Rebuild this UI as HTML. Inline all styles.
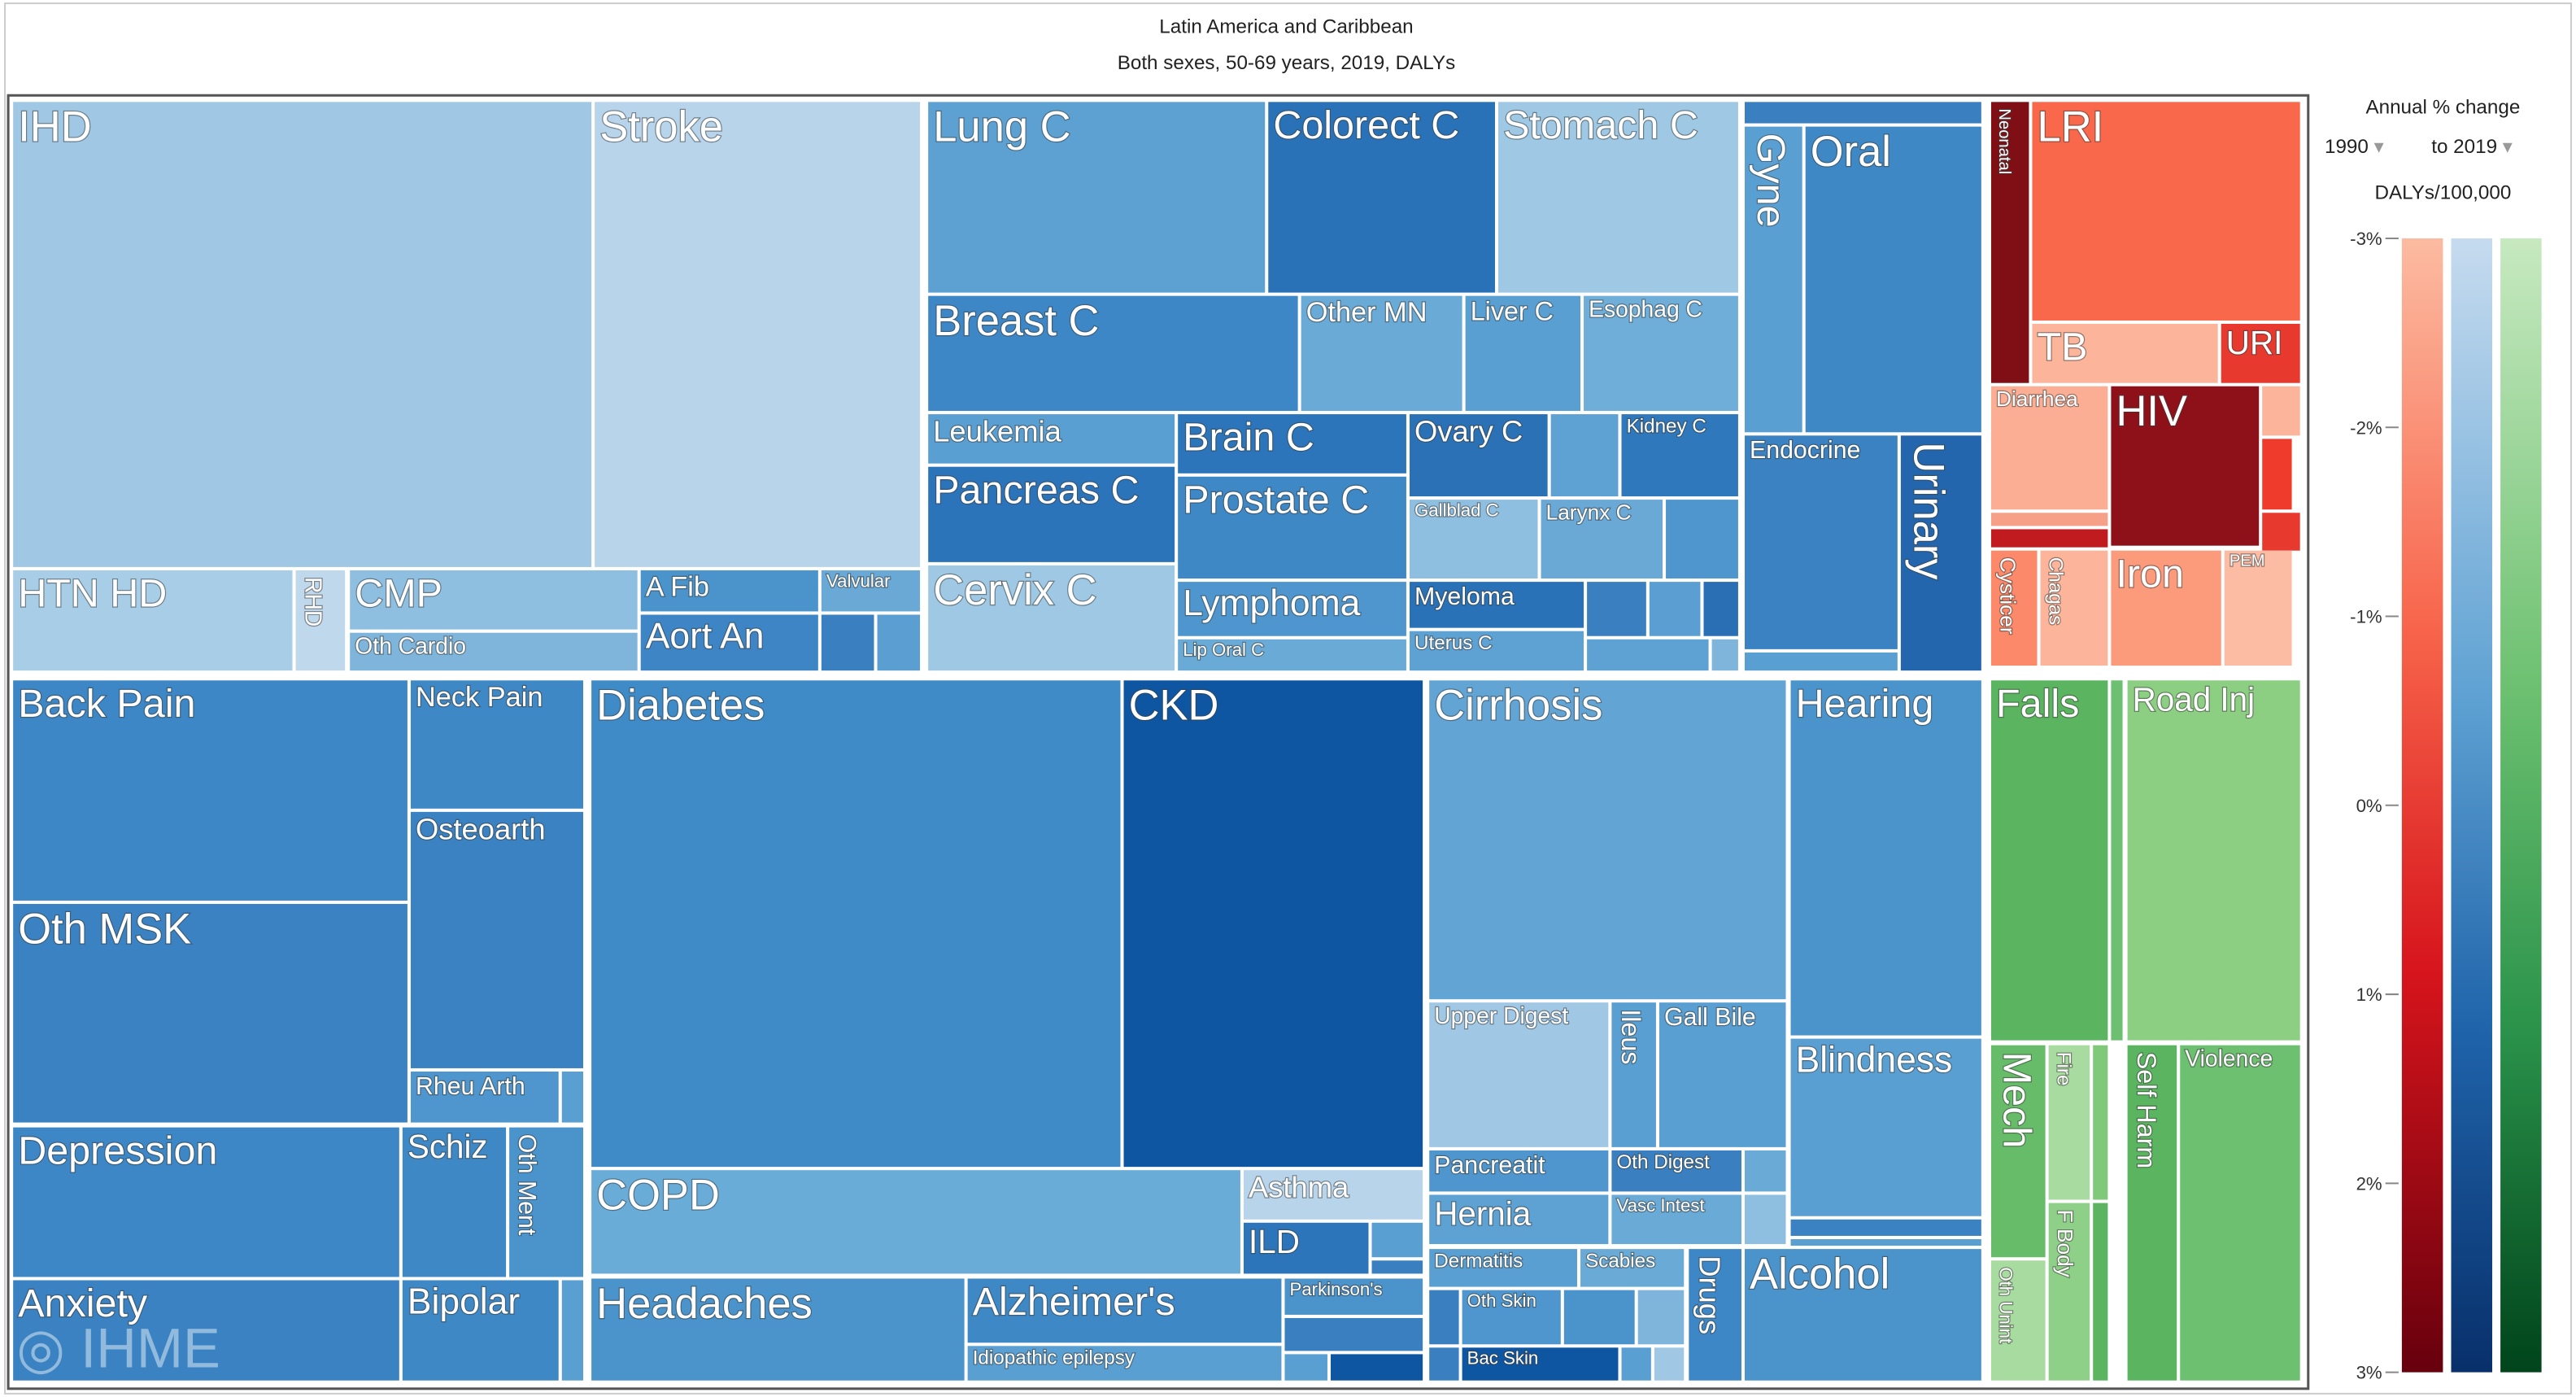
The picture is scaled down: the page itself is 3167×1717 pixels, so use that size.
<!DOCTYPE html>
<html><head><meta charset="utf-8"><style>
html,body{margin:0;padding:0;background:#fff;}
svg{display:block;font-family:"Liberation Sans",sans-serif;}
.lb{fill:#fff;paint-order:stroke;stroke:rgba(60,60,60,0.55);stroke-width:1.2px;}
</style></head><body>
<svg id="chart" width="3167" height="1717" viewBox="0 0 1568 850" xmlns="http://www.w3.org/2000/svg">
<rect x="3" y="2" width="1562" height="846" fill="#fff" stroke="#ccc" stroke-width="1"/>
<text x="783" y="20" font-size="12" text-anchor="middle" fill="#222">Latin America and Caribbean</text>
<text x="783" y="42" font-size="12" text-anchor="middle" fill="#222">Both sexes, 50-69 years, 2019, DALYs</text>
<rect x="5" y="58" width="1400" height="787" fill="#fff" stroke="#555" stroke-width="1.5"/>
<g id="cells"></g>
<g id="legend">
<text x="1487" y="69" font-size="12" text-anchor="middle" fill="#222">Annual % change</text>
<text x="1415" y="93" font-size="12" fill="#222">1990 <tspan fill="#999">▾</tspan></text>
<text x="1480" y="93" font-size="12" fill="#222">to 2019 <tspan fill="#999">▾</tspan></text>
<text x="1487" y="121" font-size="12" text-anchor="middle" fill="#222">DALYs/100,000</text>
<defs>
<linearGradient id="gr" x1="0" y1="0" x2="0" y2="1"><stop offset="0" stop-color="#fcbba1"/><stop offset="0.35" stop-color="#f7634a"/><stop offset="0.65" stop-color="#d6141c"/><stop offset="1" stop-color="#67000d"/></linearGradient>
<linearGradient id="gb" x1="0" y1="0" x2="0" y2="1"><stop offset="0" stop-color="#c6dbef"/><stop offset="0.4" stop-color="#5fa2d3"/><stop offset="0.7" stop-color="#1f63aa"/><stop offset="1" stop-color="#08306b"/></linearGradient>
<linearGradient id="gg" x1="0" y1="0" x2="0" y2="1"><stop offset="0" stop-color="#c7e9c0"/><stop offset="0.4" stop-color="#6cc070"/><stop offset="0.7" stop-color="#2a924a"/><stop offset="1" stop-color="#00441b"/></linearGradient>
</defs>
<rect x="1462" y="145" width="25" height="690" fill="url(#gr)"/>
<rect x="1492" y="145" width="25" height="690" fill="url(#gb)"/>
<rect x="1522" y="145" width="25" height="690" fill="url(#gg)"/>
<g id="ticks"></g>
</g>
<text x="10" y="832" font-size="34" fill="rgba(255,255,255,0.45)">◎ IHME</text>
</svg>
<script>
// legend tick labels
const tickLabels = ['-3%','-2%','-1%','0%','1%','2%','3%'];
const tickValues = [-3,-2,-1,0,1,2,3];
// treemap cells: [x1,y1,x2,y2,color,label,fontSize,vertical]
const cells = [
[8,62,360,345,'#a0c8e4','IHD',26],[362,62,560,345,'#b8d4ea','Stroke',26],
[8,347,178,408,'#a8cde6','HTN HD',24],[180,347,210,408,'#c0d8ec','RHD',14,1],
[213,347,388,383,'#8fbfe0','CMP',24],[213,385,388,408,'#7fb5da','Oth Cardio',14],
[390,347,498,372,'#4a93cb','A Fib',17],[500,347,560,372,'#6aa8d6','Valvular',11],
[390,374,498,408,'#3d85c4','Aort An',22],[500,374,532,408,'#3a80c0',''],[534,374,560,408,'#5a9ed2',''],
[565,62,770,178,'#5da1d3','Lung C',26],[772,62,910,178,'#2a72b8','Colorect C',24],[912,62,1058,178,'#9ec8e3','Stomach C',24],
[565,180,790,250,'#3d87c6','Breast C',26],[792,180,890,250,'#6aaad6','Other MN',17],[892,180,962,250,'#5a9fd2','Liver C',16],[964,180,1058,250,'#6eaed8','Esophag C',14],
[565,252,715,282,'#5a9fd2','Leukemia',18],[565,284,715,342,'#2b74ba','Pancreas C',24],
[717,252,856,288,'#2c75ba','Brain C',24],[717,290,856,352,'#3e88c6','Prostate C',24],
[858,252,942,302,'#2a71b6','Ovary C',18],[944,252,985,302,'#5ea2d4',''],[987,252,1058,302,'#2f78bc','Kidney C',12],
[858,304,936,352,'#8fbfe0','Gallblad C',11],[938,304,1012,352,'#6aa8d6','Larynx C',13],[1014,304,1058,352,'#4e96cd',''],
[565,344,715,408,'#9ec8e3','Cervix C',26],[717,354,856,387,'#4e96cd','Lymphoma',22],[717,389,856,408,'#6aaad6','Lip Oral C',11],
[858,354,964,382,'#2a72b8','Myeloma',15],[858,384,964,408,'#5ea2d4','Uterus C',12],
[966,354,1002,387,'#3a80c0',''],[1004,354,1035,387,'#5a9ed2',''],[1037,354,1058,387,'#2a6fb4',''],[966,389,1040,408,'#5ea2d4',''],[1042,389,1058,408,'#7fb5da',''],
[1062,62,1206,75,'#3a80c0',''],[1062,77,1097,263,'#5a9fd2','Gyne',24,1],[1099,77,1206,263,'#3e88c6','Oral',26],
[1062,265,1155,395,'#3a82c2','Endocrine',15],[1157,265,1206,408,'#2366ad','Urinary',26,1],[1062,397,1155,408,'#5a9fd2',''],
[1212,62,1235,233,'#7f0f14','Neonatal',10,1],[1237,62,1400,195,'#f9684a','LRI',26],
[1237,197,1350,233,'#fcb49a','TB',24],[1352,197,1400,233,'#e8392f','URI',20],
[1212,235,1283,310,'#fcae94','Diarrhea',13],[1285,235,1375,332,'#8e1018','HIV',26],
[1377,235,1400,265,'#fcb49a',''],[1377,267,1395,310,'#ef3b2c',''],[1377,312,1400,335,'#e8392f',''],
[1212,312,1283,320,'#f7a088',''],[1212,322,1283,333,'#c11b20',''],
[1212,335,1240,405,'#fc8a6a','Cysticer',13,1],[1242,335,1283,405,'#fcb49a','Chagas',12,1],
[1285,335,1352,405,'#fc9a7c','Iron',24],[1354,335,1395,405,'#fcbca4','PEM',10],
[8,414,248,548,'#3d87c6','Back Pain',24],[250,414,355,492,'#3e88c6','Neck Pain',17],
[250,494,355,650,'#3a82c2','Osteoarth',18],[8,550,248,683,'#3a82c2','Oth MSK',26],
[250,652,340,683,'#4e96cd','Rheu Arth',15],[342,652,355,683,'#5a9fd2',''],
[8,686,243,777,'#3d87c6','Depression',24],[245,686,308,777,'#3e88c6','Schiz',20],[310,686,355,777,'#4a93cb','Oth Ment',15,1],
[8,779,243,840,'#3a82c2','Anxiety',24],[245,779,340,840,'#3e88c6','Bipolar',22],[342,779,355,840,'#5a9fd2',''],
[360,414,682,710,'#3f8bc8','Diabetes',26],[684,414,866,710,'#0e56a2','CKD',26],
[360,712,755,775,'#6aacd8','COPD',26],[757,712,866,742,'#b8d4ea','Asthma',18],[757,744,833,775,'#2c75ba','ILD',20],
[835,744,866,765,'#5a9fd2',''],[835,767,866,775,'#3a80c0',''],
[360,778,587,840,'#4a93cb','Headaches',26],[589,778,780,817,'#3e88c6',"Alzheimer's",24],[589,819,780,840,'#5a9fd2','Idiopathic epilepsy',12],
[782,778,866,800,'#4a93cb',"Parkinson's",11],[782,802,866,822,'#3a80c0',''],[782,824,808,840,'#5a9fd2',''],[810,824,866,840,'#0e56a2',''],
[870,414,1087,608,'#62a5d5','Cirrhosis',26],[870,610,979,698,'#a0c8e4','Upper Digest',14],[981,610,1008,698,'#5a9fd2','Ileus',16,1],[1010,610,1087,698,'#5a9fd2','Gall Bile',15],
[870,700,979,725,'#4e96cd','Pancreatit',15],[981,700,1060,725,'#3a80c0','Oth Digest',12],[1062,700,1087,725,'#6aaad6',''],
[870,727,979,757,'#5ea2d4','Hernia',20],[981,727,1060,757,'#6aaad6','Vasc Intest',11],[1062,727,1087,757,'#8fbfe0',''],
[870,760,960,783,'#5a9fd2','Dermatitis',12],[962,760,1025,783,'#6aaad6','Scabies',12],
[870,785,888,818,'#3a80c0',''],[890,785,950,818,'#4e96cd','Oth Skin',11],[952,785,995,818,'#4a93cb',''],[997,785,1025,818,'#7fb5da',''],
[870,820,888,840,'#3a80c0',''],[890,820,985,840,'#0e56a2','Bac Skin',11],[987,820,1005,840,'#5a9fd2',''],[1007,820,1025,840,'#a0c8e4',''],
[1028,760,1060,840,'#3d87c6','Drugs',18,1],[1062,760,1206,840,'#4a93cb','Alcohol',26],
[1090,414,1206,630,'#4a93cb','Hearing',24],[1090,632,1206,740,'#5a9fd2','Blindness',22],[1090,742,1206,752,'#3a82c2',''],[1090,754,1206,758,'#5a9fd2',''],
[1212,414,1283,633,'#5bb560','Falls',24],[1285,414,1292,633,'#6cc070',''],[1295,414,1400,633,'#8ccf83','Road Inj',20],
[1212,636,1245,765,'#67bc69','Mech',24,1],[1247,636,1272,730,'#a8dba0','Fire',12,1],[1274,636,1283,730,'#80c97a',''],
[1212,767,1245,840,'#a8dba0','Oth Unint',11,1],[1247,732,1272,840,'#8fd088','F Body',13,1],[1274,732,1283,840,'#5bb560',''],
[1295,636,1325,840,'#5bb560','Self Harm',16,1],[1327,636,1400,840,'#6cc070','Violence',14]
];
const NS='http://www.w3.org/2000/svg';
const g=document.getElementById('cells');
function slug(s){return s.toLowerCase().replace(/[^a-z0-9]+/g,'-').replace(/^-|-$/g,'')||'unlabeled';}
cells.forEach(c=>{
  const [x1,y1,x2,y2,col,lab,fs,vert]=c;
  const r=document.createElementNS(NS,'rect');
  r.setAttribute('x',x1);r.setAttribute('y',y1);r.setAttribute('width',x2-x1);r.setAttribute('height',y2-y1);
  r.setAttribute('fill',col);
  
  
  g.appendChild(r);
  if(lab){
    const t=document.createElementNS(NS,'text');
    t.setAttribute('class','lb');t.setAttribute('font-size',fs);
    if(vert){
      const tx=x1+3+fs*0.2, ty=y1+4;
      t.setAttribute('transform','translate('+tx+','+ty+') rotate(90)');
      t.setAttribute('x',0);t.setAttribute('y',0);
    }else{
      t.setAttribute('x',x1+3);t.setAttribute('y',y1+fs*0.92);
    }
    t.textContent=lab;
    
    
    g.appendChild(t);
  }
});
const tg=document.getElementById('ticks');
const yScale=v=>490+v*115;
tickValues.forEach((v,i)=>{
  const t=document.createElementNS(NS,'text');
  t.setAttribute('x',1450);t.setAttribute('y',yScale(v)+4);
  t.setAttribute('font-size',11);t.setAttribute('text-anchor','end');t.setAttribute('fill','#333');
  t.textContent=tickLabels[i];
  
  
  tg.appendChild(t);
  const l=document.createElementNS(NS,'line');
  l.setAttribute('x1',1452);l.setAttribute('x2',1460);l.setAttribute('y1',yScale(v));l.setAttribute('y2',yScale(v));
  l.setAttribute('stroke','#888');
  
  
  tg.appendChild(l);
});
</script>
</body></html>
